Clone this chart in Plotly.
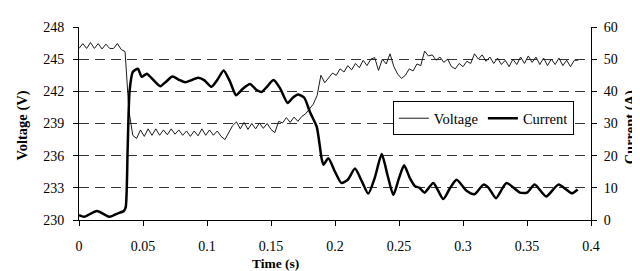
import plotly.graph_objects as go

# ---- Voltage (left axis) ----
volt_t = [0.000, 0.003, 0.006, 0.009, 0.012, 0.015, 0.018, 0.021, 0.024, 0.027,
          0.030, 0.033, 0.036, 0.039, 0.042, 0.045, 0.048, 0.051, 0.054, 0.057,
          0.060, 0.063, 0.066, 0.069, 0.072, 0.075, 0.078, 0.081, 0.084, 0.087,
          0.090, 0.093, 0.096, 0.099, 0.102, 0.105, 0.108, 0.111, 0.114, 0.117,
          0.120, 0.123, 0.126, 0.129, 0.132, 0.135, 0.138, 0.141, 0.144, 0.147,
          0.150, 0.153, 0.156, 0.159, 0.162, 0.165, 0.168, 0.171, 0.174, 0.177,
          0.180, 0.183, 0.186, 0.189, 0.192, 0.195, 0.198, 0.201, 0.204, 0.207,
          0.210, 0.213, 0.216, 0.219, 0.222, 0.225, 0.228, 0.231, 0.234, 0.237,
          0.240, 0.243, 0.246, 0.249, 0.252, 0.255, 0.258, 0.261, 0.264, 0.267,
          0.270, 0.273, 0.276, 0.279, 0.282, 0.285, 0.288, 0.291, 0.294, 0.297,
          0.300, 0.303, 0.306, 0.309, 0.312, 0.315, 0.318, 0.321, 0.324, 0.327,
          0.330, 0.333, 0.336, 0.339, 0.342, 0.345, 0.348, 0.351, 0.354, 0.357,
          0.360, 0.363, 0.366, 0.369, 0.372, 0.375, 0.378, 0.381, 0.384, 0.387,
          0.390]
volt_v = [246.0, 246.45, 246.0, 246.55, 246.0, 246.45, 245.95, 246.4, 246.0, 246.0,
          246.45, 245.9, 245.7, 240.2, 237.9, 237.6, 238.4, 237.8, 238.5, 237.9,
          238.5, 237.9, 238.4, 237.95, 238.5, 238.0, 238.4, 237.9, 238.3, 237.8,
          238.3, 237.85, 238.5, 237.9, 238.4, 237.9, 238.3, 237.8, 237.5, 238.2,
          238.8, 239.15, 238.5, 239.1, 238.45, 239.0, 238.5, 239.05, 238.55, 239.0,
          238.45, 238.15, 239.2, 239.05, 239.55, 239.1, 239.6, 239.2, 239.65, 239.9,
          240.4, 240.8, 241.6, 243.5, 242.8, 243.3, 243.7, 243.5, 244.1, 243.8,
          244.4, 244.0, 244.6, 244.2, 244.9, 244.4, 245.0, 245.15, 243.95, 245.0,
          244.55, 245.5, 244.3, 243.6, 243.2, 243.5, 244.1, 243.9, 244.55, 244.4,
          245.75, 245.3, 245.4, 244.9, 245.2, 244.7, 245.0, 244.3, 244.1, 244.6,
          244.3, 244.8, 244.6, 245.5, 245.0, 245.4, 244.8, 245.2, 244.6, 245.1,
          244.5, 244.9, 244.3, 245.0, 244.5, 245.2, 244.6, 245.3, 244.7, 245.2,
          244.5, 245.1, 244.4, 245.0, 244.5, 245.1, 244.4, 244.9, 244.3, 244.9,
          244.9]

# ---- Current (right axis) ----
curr_t = [0.000, 0.004, 0.014, 0.024, 0.030, 0.035, 0.0365, 0.038, 0.0395, 0.042,
          0.046, 0.049, 0.053, 0.057, 0.0635, 0.068, 0.073, 0.078, 0.083, 0.088,
          0.093, 0.098, 0.1035, 0.108, 0.113, 0.118, 0.1227, 0.128, 0.1336, 0.1385,
          0.1427, 0.147, 0.152, 0.157, 0.163, 0.167, 0.171, 0.176, 0.1805, 0.1857,
          0.1896, 0.191, 0.1948, 0.200, 0.205, 0.210, 0.2156, 0.221, 0.226, 0.231,
          0.2365, 0.241, 0.2456, 0.250, 0.254, 0.2585, 0.2625, 0.266, 0.270, 0.2768,
          0.2846, 0.290, 0.295, 0.303, 0.309, 0.316, 0.320, 0.3258, 0.334, 0.3445,
          0.350, 0.356, 0.365, 0.3745, 0.385, 0.3896]
curr_v = [1.5, 1.0, 2.8, 1.0, 2.0, 2.8, 4.0, 22.0, 40.0, 46.0,
          47.0, 44.5, 45.5, 44.0, 41.6, 43.0, 44.6, 43.6, 42.8, 43.5,
          44.2, 43.4, 41.4, 43.5, 46.5, 43.0, 38.8, 40.8, 42.3, 40.5,
          39.8, 41.5, 43.5, 41.0, 36.4, 38.0, 39.0, 38.0, 33.5, 29.0,
          19.0, 17.2, 19.2, 15.0, 11.5, 12.5, 16.0, 12.0, 8.2, 13.0,
          20.5, 14.0, 7.8, 13.0, 17.0, 13.0, 10.5, 10.0, 8.5, 11.5,
          6.5, 10.0, 12.5, 9.0, 8.0, 11.0, 10.0, 6.8, 11.5, 8.5,
          8.5, 11.0, 7.3, 11.0, 8.3, 9.5]

x_ticks = [0, 0.05, 0.1, 0.15, 0.2, 0.25, 0.3, 0.35, 0.4]
x_ticklabels = ["0", "0.05", "0.1", "0.15", "0.2", "0.25", "0.3", "0.35", "0.4"]
v_ticks = [230, 233, 236, 239, 242, 245, 248]
i_ticks = [0, 10, 20, 30, 40, 50, 60]

FONT = "Liberation Serif"

fig = go.Figure()
fig.add_trace(go.Scatter(x=volt_t, y=volt_v, name="Voltage", mode="lines",
                         line=dict(color="#1a1a1a", width=1), yaxis="y"))
fig.add_trace(go.Scatter(x=curr_t, y=curr_v, name="Current", mode="lines",
                         line=dict(color="black", width=2.5, shape="spline", smoothing=0.6),
                         yaxis="y2"))

# page body has an 8px margin, so the figure is 8px smaller and shifted
fig.update_layout(
    width=632, height=263,
    margin=dict(l=71, r=49, t=12, b=51),
    paper_bgcolor="white", plot_bgcolor="white",
    font=dict(family=FONT, size=14, color="black"),
    showlegend=True,
    legend=dict(orientation="h", x=0.613, xanchor="left", y=0.615, yanchor="top",
                bgcolor="white", bordercolor="black", borderwidth=1,
                font=dict(family=FONT, size=14.5), itemwidth=30,
                tracegroupgap=0),
    xaxis=dict(range=[0, 0.4], tickvals=x_ticks, ticktext=x_ticklabels,
               showline=True, linecolor="black", linewidth=1,
               ticks="outside", ticklen=5, tickcolor="black",
               ticklabelstandoff=8, showgrid=False, zeroline=False,
               tickfont=dict(family=FONT, size=14)),
    yaxis=dict(range=[230, 248], tickvals=v_ticks,
               showline=True, linecolor="black", linewidth=1,
               ticks="outside", ticklen=5, tickcolor="black",
               ticklabelstandoff=6, tickfont=dict(family=FONT, size=14),
               showgrid=True, gridcolor="#333333", gridwidth=1, griddash="10px,6px",
               zeroline=False),
    yaxis2=dict(range=[0, 60], tickvals=i_ticks, overlaying="y", side="right",
                showline=True, linecolor="black", linewidth=1,
                ticks="outside", ticklen=5, tickcolor="black",
                tickfont=dict(family=FONT, size=14),
                ticklabelstandoff=4, showgrid=False, zeroline=False),
    annotations=[
        dict(text="<b>Time (s)</b>", xref="paper", yref="paper",
             x=(275.5 - 79) / 512, y=-(265 - 220) / 200, xanchor="center", yanchor="middle",
             showarrow=False, font=dict(family=FONT, size=13.5)),
        dict(text="<b>Voltage (V)</b>", xref="paper", yref="paper",
             x=(22.5 - 79) / 512, y=(220 - 122.5) / 200, xanchor="center", yanchor="middle",
             textangle=-90, showarrow=False, font=dict(family=FONT, size=14.5)),
        dict(text="<b>Current (A)</b>", xref="paper", yref="paper",
             x=(630 - 79) / 512, y=(220 - 124) / 200, xanchor="center", yanchor="middle",
             textangle=-90, showarrow=False, font=dict(family=FONT, size=14.5)),
    ],
)

fig.write_html("out.html")
